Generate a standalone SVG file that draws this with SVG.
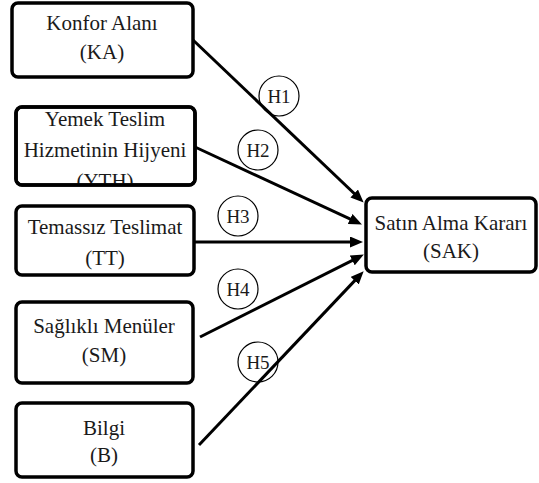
<svg xmlns="http://www.w3.org/2000/svg" width="539" height="483" viewBox="0 0 539 483">
<style>
.box{fill:#fff;stroke:#000;stroke-width:3.5}
.t{font-family:"Liberation Serif","Times New Roman",serif;font-size:21px;fill:#1a1a1a;text-anchor:middle}
.h{font-family:"Liberation Serif","Times New Roman",serif;font-size:19px;fill:#1a1a1a;text-anchor:middle}
.c{fill:none;stroke:#000;stroke-width:1.2}
.ln{stroke:#000;stroke-width:3;fill:none;marker-end:url(#ah)}
</style>
<defs>
<marker id="ah" markerUnits="userSpaceOnUse" markerWidth="13" markerHeight="11" refX="8" refY="5.5" orient="auto" viewBox="0 0 13 11">
<path d="M0,0 L13,5.5 L0,11 Z" fill="#000"/>
</marker>
<clipPath id="cy"><rect x="16" y="107" width="179" height="77"/></clipPath>
</defs>
<rect width="539" height="483" fill="#fff"/>
<g id="connectors">
<line class="ln" x1="193" y1="40" x2="360" y2="199"/>
<line class="ln" x1="195" y1="147" x2="357.4" y2="222.3"/>
<line class="ln" x1="195" y1="242" x2="358" y2="242"/>
<line class="ln" x1="200" y1="337" x2="359.4" y2="256.8"/>
<line class="ln" x1="199" y1="445" x2="360.2" y2="274.9"/>
<g id="labels">
<circle class="c" cx="279" cy="96" r="20"/><text class="h" x="279" y="103">H1</text>
<circle class="c" cx="258" cy="150" r="20"/><text class="h" x="258" y="157">H2</text>
<circle class="c" cx="238" cy="216" r="20"/><text class="h" x="238" y="223">H3</text>
<circle class="c" cx="238" cy="289" r="20"/><text class="h" x="238" y="296">H4</text>
<circle class="c" cx="258" cy="362" r="20"/><text class="h" x="258" y="369">H5</text>
</g>
</g>
<g id="KA">
<rect class="box" x="12" y="3" width="181" height="74" rx="6"/>
<text class="t" x="102" y="30">Konfor Alanı</text>
<text class="t" x="102" y="59">(KA)</text>
</g>
<g id="YTH">
<rect class="box" x="16" y="107" width="179" height="78" rx="6"/>
<g clip-path="url(#cy)">
<text class="t" x="105" y="126">Yemek Teslim</text>
<text class="t" x="105" y="157">Hizmetinin Hijyeni</text>
<text class="t" x="105" y="188">(YTH)</text>
</g>
<rect x="16" y="107" width="179" height="78" rx="6" fill="none" stroke="#000" stroke-width="3.5"/>
</g>
<g id="TT">
<rect class="box" x="16" y="206" width="178" height="69" rx="6"/>
<text class="t" x="105" y="234">Temassız Teslimat</text>
<text class="t" x="105" y="265">(TT)</text>
</g>
<g id="SM">
<rect class="box" x="16" y="302" width="177" height="81" rx="6"/>
<text class="t" x="104" y="333">Sağlıklı Menüler</text>
<text class="t" x="104" y="362">(SM)</text>
</g>
<g id="B">
<rect class="box" x="16" y="403" width="177" height="74" rx="6"/>
<text class="t" x="104" y="435">Bilgi</text>
<text class="t" x="104" y="462">(B)</text>
</g>
<g id="SAK">
<rect class="box" x="366" y="198" width="170" height="74" rx="6"/>
<text class="t" x="451" y="230">Satın Alma Kararı</text>
<text class="t" x="451" y="258">(SAK)</text>
</g>
</svg>
